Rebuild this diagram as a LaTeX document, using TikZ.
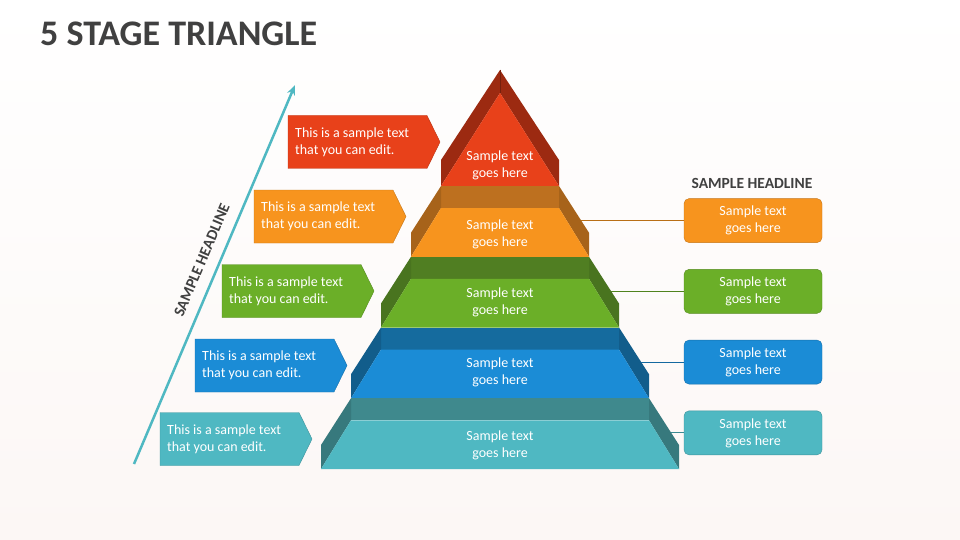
\documentclass[tikz,border=0pt]{standalone}
\usepackage{fontspec}
\setmainfont{Carlito}
\usetikzlibrary{arrows.meta,positioning}
\definecolor{redF}{HTML}{E8411A}\definecolor{redS}{HTML}{9C2A11}
\definecolor{orF}{HTML}{F7941E}\definecolor{orB}{HTML}{BD701F}\definecolor{orS}{HTML}{A7631A}
\definecolor{grF}{HTML}{6BAF28}\definecolor{grB}{HTML}{507E22}\definecolor{grS}{HTML}{49741F}
\definecolor{blF}{HTML}{1B8CD6}\definecolor{blB}{HTML}{156B9E}\definecolor{blS}{HTML}{125D8B}
\definecolor{tlF}{HTML}{4FB8C2}\definecolor{tlB}{HTML}{3F898D}\definecolor{tlS}{HTML}{37797D}
\definecolor{ink}{HTML}{404040}
\definecolor{paper}{HTML}{FCF7F5}

\begin{document}
\begin{tikzpicture}[x=1pt,y=-1pt,
 txt/.style={text=white,font=\fontsize{14}{17}\selectfont},
 lbl/.style={txt,align=left,inner sep=0pt,anchor=west},
 mid/.style={txt,align=center},
 rbox/.style={txt,align=center,draw=#1!80!black,fill=#1,rounded corners=5pt,minimum width=138pt,minimum height=44pt},
 head/.style={text=ink,font=\bfseries\fontsize{15.5}{17}\selectfont,inner sep=0pt},
 >={Stealth[length=10pt,width=8pt]}]
\useasboundingbox (0,0) rectangle (960,540);
\shade[top color=white,bottom color=paper] (0,0) rectangle (960,540);
\node[anchor=base west,text=ink,font=\bfseries\fontsize{36}{40}\selectfont,inner sep=0pt] (title) at (40,46) {5 STAGE TRIANGLE};

% top stage
\fill[redS] (500,70) -- (441,160) -- (441,186) -- (500,93) -- cycle;
\fill[redS] (500,70) -- (559,160) -- (559,186) -- (500,93) -- cycle;
\draw[redS!75!black,line width=0.6pt] (500,70) -- (500,93);
\fill[redF] (500,93) -- (559,186) -- (441,186) -- cycle;
\node[mid] (p0) at (500,165.5) {Sample text\\goes here};

% lower stages with their boxes
\coordinate (rcol) at (753,0);
\node[head] (h2) at (752,183) {SAMPLE HEADLINE};
\foreach \k/\c/\ty in {1/or/234.5,2/gr/302.5,3/bl/372.5,4/tl/445.5}{
 \pgfmathsetmacro\yt{186+70.75*(\k-1)}
 \pgfmathsetmacro\yb{\yt+70.75}
 \pgfmathsetmacro\a{29+30*\k}
 \pgfmathsetmacro\b{59+30*\k}
 \fill[\c B] (500-\a,\yt) rectangle (500+\a,\yt+22);
 \fill[\c S] (500-\a,\yt) -- (500-\b,\yb-24) -- (500-\b,\yb) -- (500-\a,\yt+22) -- cycle;
 \fill[\c S] (500+\a,\yt) -- (500+\b,\yb-24) -- (500+\b,\yb) -- (500+\a,\yt+22) -- cycle;
 \fill[\c F] (500-\a,\yt+22) -- (500+\a,\yt+22) -- (500+\b,\yb) -- (500-\b,\yb) -- cycle;
 \node[mid] (p\k) at (500,\ty) {Sample text\\goes here};
 \path (500+\a,\yt) -- (500+\b,\yb-24) coordinate[pos=0.74] (e\k);
 \node[rbox=\c F] (r\k) at (e\k -| rcol) {Sample text\\goes here};
 \draw[\c F!75!black,line width=0.8pt] (e\k) -- (r\k);
}

% left tags
\foreach \k/\c/\x/\y in {0/red/288/142,1/or/254/216.5,2/gr/222/291,3/bl/195/365.5,4/tl/160/439}{
 \draw[draw=\c F!80!black,fill=\c F] (\x,\y-26.5) -- ++(139,0) -- ++(13,26.5) -- ++(-13,26.5) -- ++(-139,0) -- cycle;
 \node[lbl] (l\k) at (\x+7,\y) {This is a sample text\\that you can edit.};
}

% rising axis
\coordinate (a0) at (134,464);
\coordinate (a1) at (295,85);
\draw[->,tlF,line width=2.5pt] (a0) -- (a1) node[head,pos=0.52,sloped,above=11pt] (h1) {SAMPLE HEADLINE};
\end{tikzpicture}
\end{document}
